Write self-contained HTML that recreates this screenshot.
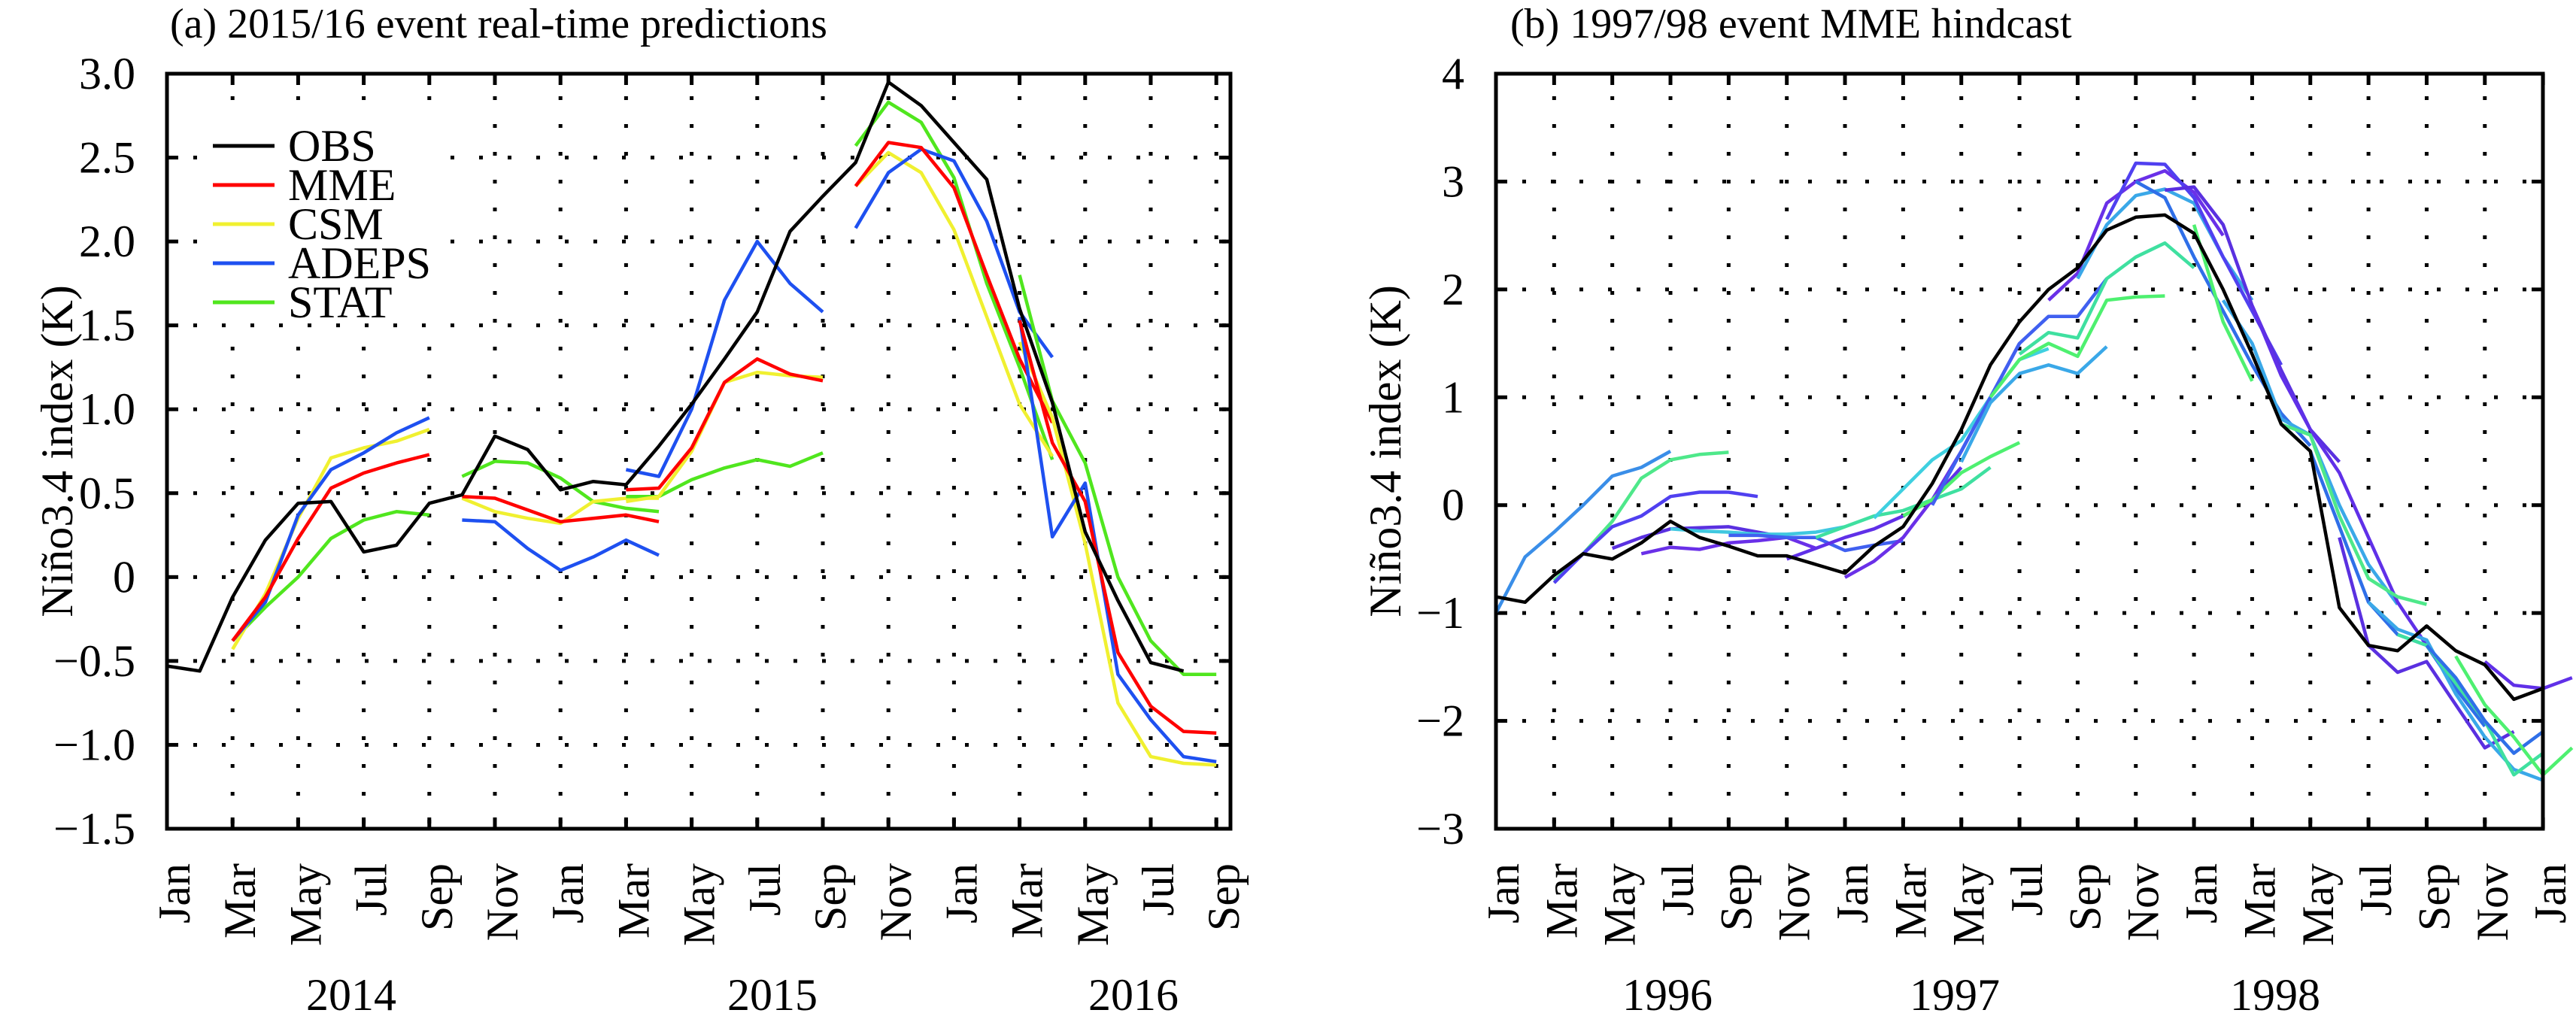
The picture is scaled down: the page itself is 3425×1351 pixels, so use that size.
<!DOCTYPE html>
<html><head><meta charset="utf-8">
<style>
html,body{margin:0;padding:0;background:#fff;}
svg{display:block;}
svg text{font-family:"Liberation Serif","Times New Roman",serif;}
</style></head>
<body>
<svg id="fig" width="3425" height="1351" viewBox="0 0 3425 1351" xmlns="http://www.w3.org/2000/svg" font-family="Liberation Serif, serif">
<g id="pa"></g>
<g id="pb"></g>
</svg>
<script>
// ---------- Panel A data ----------
const monthNamesA = ["Jan","Mar","May","Jul","Sep","Nov","Jan","Mar","May","Jul","Sep","Nov","Jan","Mar","May","Jul","Sep"];
const yTicksA = [3.0,2.5,2.0,1.5,1.0,0.5,0,-0.5,-1.0,-1.5];
const yTickLabelsA = ["3.0","2.5","2.0","1.5","1.0","0.5","0","\u22120.5","\u22121.0","\u22121.5"];
const yearsA = ["2014","2015","2016"];
const obsA = [-0.53,-0.56,-0.12,0.22,0.44,0.45,0.15,0.19,0.44,0.49,0.84,0.76,0.52,0.57,0.55,0.78,1.03,1.30,1.58,2.06,2.27,2.47,2.95,2.81,2.59,2.37,1.60,1.04,0.27,-0.14,-0.51,-0.56];
const segStartsA = [2,9,14,21,26];
const mmeA = [[-0.38,-0.12,0.23,0.53,0.62,0.68,0.73],[0.48,0.47,0.40,0.33,0.35,0.37,0.33],[0.52,0.53,0.77,1.16,1.30,1.21,1.17],[2.33,2.59,2.56,2.32,1.80,1.30,0.92],[1.53,0.80,0.45,-0.45,-0.77,-0.92,-0.93]];
const csmA = [[-0.43,-0.10,0.35,0.71,0.77,0.81,0.88],[0.47,0.39,0.35,0.32,0.45,0.47,0.47],[0.45,0.48,0.75,1.16,1.22,1.20,1.19],[2.33,2.53,2.41,2.07,1.55,1.03,0.72],[1.40,0.95,0.20,-0.75,-1.07,-1.11,-1.12]];
const adepsA = [[-0.38,-0.15,0.37,0.64,0.74,0.86,0.95],[0.34,0.33,0.17,0.04,0.12,0.22,0.13],[0.64,0.60,1.00,1.65,2.00,1.75,1.58],[2.08,2.41,2.55,2.48,2.12,1.58,1.31],[1.55,0.24,0.56,-0.58,-0.85,-1.07,-1.10]];
const statA = [[-0.38,-0.18,0.00,0.23,0.34,0.39,0.37],[0.60,0.69,0.68,0.59,0.45,0.41,0.39],[0.48,0.48,0.58,0.65,0.70,0.66,0.74],[2.57,2.83,2.71,2.38,1.75,1.25,0.70],[1.80,1.05,0.68,0.00,-0.38,-0.58,-0.58]];
const legendNames = ["OBS","MME","CSM","ADEPS","STAT"];

// ---------- Panel B data ----------
const monthNamesB = ["Jan","Mar","May","Jul","Sep","Nov","Jan","Mar","May","Jul","Sep","Nov","Jan","Mar","May","Jul","Sep","Nov","Jan"];
const yTicksB = [4,3,2,1,0,-1,-2,-3];
const yTickLabelsB = ["4","3","2","1","0","\u22121","\u22122","\u22123"];
const yearsB = ["1996","1997","1998"];
const obsB = [-0.85,-0.9,-0.65,-0.45,-0.5,-0.35,-0.15,-0.3,-0.38,-0.47,-0.47,-0.55,-0.63,-0.38,-0.2,0.2,0.7,1.3,1.7,2.0,2.2,2.55,2.67,2.69,2.52,2.0,1.4,0.75,0.5,-0.95,-1.3,-1.35,-1.12,-1.35,-1.48,-1.8,-1.7];
const hindStarts = [0,2,2,4,5,6,8,10,11,12,13,14,15,16,17,18,19,20,21,22,23,24,25,26,27,28,29,30,31,32,33,34];
const hindValues = [
 [-1.0,-0.48,-0.25,0.0,0.27,0.35,0.5],
 [-0.7,-0.45,-0.15,0.25,0.42,0.47,0.49],
 [-0.72,-0.45,-0.2,-0.1,0.08,0.12,0.12,0.08],
 [-0.4,-0.3,-0.22,-0.21,-0.2,-0.25,-0.3],
 [-0.45,-0.39,-0.41,-0.35,-0.33,-0.3,-0.4],
 [-0.22,-0.24,-0.25,-0.27,-0.27,-0.25,-0.2],
 [-0.28,-0.28,-0.3,-0.3,-0.42,-0.37,-0.33],
 [-0.5,-0.4,-0.3,-0.22,-0.1,0.05,0.35],
 [-0.3,-0.2,-0.1,-0.05,0.05,0.15,0.35],
 [-0.67,-0.52,-0.3,0.05,0.5,1.0,1.5],
 [-0.12,0.15,0.42,0.6,1.0,1.35,1.45],
 [-0.1,0.05,0.3,0.45,0.58],
 [0.0,0.5,1.0,1.5,1.75,1.75,2.1],
 [0.4,0.95,1.22,1.3,1.22,1.47],
 [1.0,1.35,1.5,1.38,1.9,1.93,1.94],
 [1.4,1.6,1.55,2.1,2.3,2.43,2.2],
 [1.9,2.15,2.8,3.0,3.1,2.9,2.5],
 [2.1,2.6,2.87,2.93,2.8,2.3,1.9],
 [2.65,3.17,3.16,2.85,2.3,1.8,1.3],
 [3.0,2.85,2.3,1.8,1.3,0.85,0.55],
 [2.92,2.95,2.6,1.85,1.25,0.7,0.4],
 [2.6,1.7,1.15],
 [1.9,1.5,0.8,0.65,0.0,-0.55,-0.92],
 [1.85,1.2,0.7,0.3,-0.3,-0.9,-1.3],
 [0.75,0.65,-0.1,-0.68,-0.85,-0.92],
 [0.5,-0.2,-0.9,-1.2,-1.3,-1.7,-2.05],
 [-0.3,-1.3,-1.55,-1.45,-1.85,-2.25,-2.1],
 [-0.9,-1.15,-1.25,-1.75,-2.15,-2.45,-2.55],
 [-1.2,-1.3,-1.65,-2.0,-2.5,-2.3],
 [-1.3,-1.6,-2.0,-2.3,-2.1],
 [-1.4,-1.85,-2.15,-2.5,-2.25],
 [-1.45,-1.67,-1.7,-1.6]
];
const hindColors = ["#3a8ee8","#4ee88a","#5040f0","#5a30e0","#6a30e8","#40c8e0","#4060f0","#6030e8","#3fe0a0","#6a30e8","#3fd0e0","#4ef070","#4060f0","#3aa8e8","#4ef070","#3fe0a0","#6a30e8","#3aa8e8","#5040f0","#2f6fe8","#5a30e0","#4ef070","#3aa8e8","#6030e8","#4ee88a","#2f6fe8","#5a30e0","#3aa8e8","#3fe0a0","#2f6fe8","#4ef070","#6030e8"];

const NS = "http://www.w3.org/2000/svg";
const FONT = '"Liberation Serif", "Times New Roman", serif';
function mk(parent, tag, attrs, text){
  const e = document.createElementNS(NS, tag);
  for (const k in attrs) e.setAttribute(k, attrs[k]);
  if (tag === 'text') e.style.fontFamily = FONT;
  if (text !== undefined) e.textContent = text;
  parent.appendChild(e);
  return e;
}

function drawPanel(g, cfg){
  const {x0, x1, y0, y1, mStep, xm0, yMax, yMin, yTicks, yLabels, months, years, yearX, title, titleX, ylabX} = cfg;
  const X = m => xm0 + m*mStep;
  const Y = v => y0 + (yMax - v)/(yMax - yMin)*(y1 - y0);
  months.forEach((mn,i)=>{
    const x = X(i*2);
    if (x > x0+5 && x < x1-5){
      const l = mk(g,'line',{x1:x,y1:y0,x2:x,y2:y1,stroke:'#000','stroke-width':5,'stroke-dasharray':'5 32','stroke-dashoffset':-30});
      
      
    }
  });
  yTicks.forEach(v=>{
    const y = Y(v);
    if (y > y0+5 && y < y1-5){
      const l = mk(g,'line',{x1:x0,y1:y,x2:x1,y2:y,stroke:'#000','stroke-width':5,'stroke-dasharray':'5 33','stroke-dashoffset':-35});
      
      
    }
  });
  cfg.g = g; cfg.X = X; cfg.Y = Y;
  const t = mk(g,'text',{x:titleX,y:50,'font-size':56},title);
  
  
  const yl = mk(g,'text',{x:0,y:0,'font-size':60,'text-anchor':'middle',transform:`translate(${ylabX},${(y0+y1)/2}) rotate(-90)`},'Niño3.4 index (K)');
  
  
  yTicks.forEach((v,i)=>{
    const y = Y(v);
    const tl = mk(g,'text',{x:x0-42,y:y+20,'font-size':60,'text-anchor':'end'},yLabels[i]);
    
    
    mk(g,'line',{x1:x0,y1:y,x2:x0+15,y2:y,stroke:'#000','stroke-width':5});
    mk(g,'line',{x1:x1,y1:y,x2:x1-15,y2:y,stroke:'#000','stroke-width':5});
  });
  months.forEach((mn,i)=>{
    const x = X(i*2);
    mk(g,'line',{x1:x,y1:y1,x2:x,y2:y1-15,stroke:'#000','stroke-width':5});
    mk(g,'line',{x1:x,y1:y0,x2:x,y2:y0+15,stroke:'#000','stroke-width':5});
    const ml = mk(g,'text',{x:0,y:0,'font-size':60,'text-anchor':'end',transform:`translate(${x+30},${y1+46}) rotate(-90)`},mn);
    
    
  });
  years.forEach((yr,i)=>{
    const yt = mk(g,'text',{x:yearX[i],y:1343,'font-size':60,'text-anchor':'middle'},yr);
    
    
  });
}
function frame(cfg){
  const r = mk(cfg.g,'rect',{x:cfg.x0,y:cfg.y0,width:cfg.x1-cfg.x0,height:cfg.y1-cfg.y0,fill:'none',stroke:'#000','stroke-width':5});
  
  
}
function series(cfg, start, vals, color, name){
  const pts = vals.map((v,i)=>cfg.X(start+i).toFixed(1)+','+cfg.Y(v).toFixed(1)).join(' ');
  const p = mk(cfg.g,'polyline',{points:pts,fill:'none',stroke:color,'stroke-width':4.5,'stroke-linejoin':'round'});
  
  
}

const cfgA = {x0:222,x1:1636,y0:98,y1:1102,mStep:43.6,xm0:222,yMax:3.0,yMin:-1.5,yTicks:yTicksA,yLabels:yTickLabelsA,months:monthNamesA,years:yearsA,yearX:[467,1027,1507],title:"(a) 2015/16 event real-time predictions",titleX:226,ylabX:96};
drawPanel(document.getElementById('pa'), cfgA);
const lg = mk(cfgA.g,'rect',{x:272,y:162,width:305,height:268,fill:'#fff'});


const colsA = ["#000000","#ff0000","#f0f030","#1e50f0","#50e61e"];
segStartsA.forEach((s,i)=>{
  series(cfgA,s,statA[i],colsA[4],'stat-forecast');
  series(cfgA,s,csmA[i],colsA[2],'csm-forecast');
  series(cfgA,s,adepsA[i],colsA[3],'adeps-forecast');
  series(cfgA,s,mmeA[i],colsA[1],'mme-forecast');
});
series(cfgA,0,obsA,colsA[0],'obs-line');
legendNames.forEach((n,i)=>{
  const y = 194 + i*52;
  const l = mk(cfgA.g,'line',{x1:283,y1:y,x2:365,y2:y,stroke:colsA[i],'stroke-width':5});
  
  
  const t = mk(cfgA.g,'text',{x:383,y:y+20,'font-size':60},n);
  
  
});
frame(cfgA);

const cfgB = {x0:1989,x1:3381,y0:98,y1:1102,mStep:38.67,xm0:1989,yMax:4,yMin:-3,yTicks:yTicksB,yLabels:yTickLabelsB,months:monthNamesB,years:yearsB,yearX:[2217,2599,3025],title:"(b) 1997/98 event MME hindcast",titleX:2008,ylabX:1862};
drawPanel(document.getElementById('pb'), cfgB);
hindStarts.forEach((s,i)=>{
  series(cfgB,s,hindValues[i],hindColors[i],'hindcast-line');
});
series(cfgB,0,obsB,'#000','obs-line');
frame(cfgB);
</script>
</body></html>
